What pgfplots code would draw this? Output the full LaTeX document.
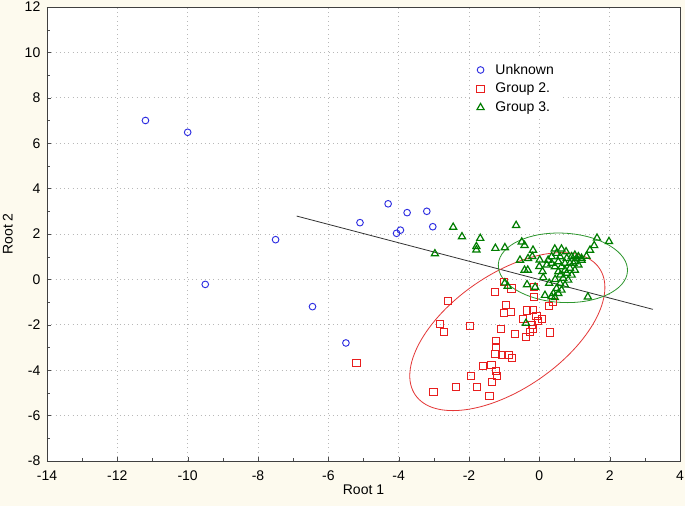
\documentclass[border=0pt]{standalone}
\usepackage{pgfplots}
\pgfplotsset{compat=1.18}
\usepackage{fontspec}
\setmainfont{Liberation Sans}

\definecolor{cblue}{RGB}{45,45,225}
\definecolor{cred}{RGB}{232,30,30}
\definecolor{cgreen}{RGB}{0,125,0}
\definecolor{egreen}{RGB}{45,150,45}
\definecolor{ered}{RGB}{228,55,55}
\definecolor{cream}{RGB}{253,250,238}

\begin{document}
\begin{tikzpicture}
% page background, same size as the reference picture
\path[use as bounding box, fill=cream] (-35.25pt,-33.75pt) rectangle (478.5pt,345.75pt);
\begin{axis}[
  scale only axis,
  width=474.75pt, height=340.5pt,
  xmin=-14, xmax=4, ymin=-8, ymax=12,
  xtick={-14,-12,...,4}, ytick={-8,-6,...,12},
  minor tick num=1,
  tick align=inside,
  xtick pos=bottom, ytick pos=left,
  major tick length=3pt, minor tick length=2pt,
  tick style={black!70},
  axis line style={black!75},
  axis background/.style={fill=white},
  grid=major,
  major grid style={black!28, line width=0.6pt, dash pattern=on 0.6pt off 2.6pt},
  /pgf/number format/assume math mode=true,
  ticklabel style={font=\fontsize{10.5}{12.6}\selectfont},
  xticklabel style={yshift=-3.5pt},
  yticklabel style={xshift=-1.5pt},
  label style={font=\fontsize{10.5}{12.6}\selectfont},
  xlabel={Root 1}, ylabel={Root 2},
  xlabel style={at={(axis description cs:0.5,-0.064)}, anchor=center},
  ylabel style={at={(axis description cs:-0.062,0.5)}, anchor=center},
  legend style={at={(rel axis cs:0.6725,0.887)}, anchor=north west,
    draw=none, fill=white, font=\fontsize{10.5}{12.6}\selectfont,
    row sep=1.2pt,
    /tikz/every odd column/.append style={column sep=6.5pt}},
  legend cell align=left,
]
\addplot[only marks, mark=o, mark size=2.5pt, cblue, line width=0.7pt] coordinates {
(-11.2,7.0) (-10.0,6.48) (-9.5,-0.22) (-7.5,1.75) (-6.45,-1.2) (-5.5,-2.8)
(-5.1,2.5) (-4.3,3.33) (-4.06,2.03) (-3.95,2.17) (-3.76,2.94) (-3.2,3.0) (-3.03,2.32)
};
\addlegendentry{Unknown}

\addplot[only marks, mark=square, mark size=2.7pt, cred, line width=0.7pt] coordinates {
(-5.2,-3.67) (-2.6,-0.94) (-2.82,-1.97) (-2.72,-2.3) (-1.97,-2.05)
(-3.01,-4.96) (-2.37,-4.73) (-1.78,-4.75) (-1.95,-4.25) (-1.42,-5.14)
(-1.34,-4.52) (-1.2,-4.25) (-1.23,-4.02) (-1.6,-3.81) (-1.36,-3.78)
(-1.24,-2.7) (-1.24,-2.98) (-1.25,-3.28) (-1.07,-3.34) (-0.88,-3.33) (-0.78,-3.45)
(-1.1,-2.17) (-0.69,-2.42) (-1.27,-0.56) (-1.01,-0.13) (-0.79,-0.4)
(-0.94,-1.11) (-1.0,-1.47) (-0.8,-1.44) (-0.15,-0.34) (-0.15,-0.79)
(-0.36,-1.37) (-0.17,-1.35) (-0.08,-1.61) (0.07,-1.76) (-0.03,-1.84)
(-0.46,-1.74) (-0.22,-2.01) (-0.19,-2.2) (-0.27,-2.33) (-0.37,-2.53)
(0.3,-2.34) (0.28,-1.16) (0.38,-0.99)
};
\addlegendentry{Group 2.}

\addplot[only marks, mark=triangle, mark size=3.1pt, cgreen, line width=0.9pt] coordinates {
(-2.45,2.3) (-2.2,1.88) (-1.68,1.81) (-1.79,1.45) (-1.79,1.3) (-2.97,1.13)
(-0.66,2.38) (-1.25,1.37) (-0.98,1.4) (-0.5,1.65) (-0.42,1.5) (-0.18,1.29)
(-0.55,0.85) (-0.32,0.92) (-0.2,1.01) (-0.42,0.41) (-0.33,0.41)
(0.01,0.86) (0.0,0.57) (0.09,0.35) (0.11,0.08) (0.28,-0.17) (0.16,-0.7) (0.35,-0.76)
(-0.98,-0.15) (-0.9,-0.3) (-0.35,-0.23) (-0.12,-0.34) (1.38,-0.77)
(1.64,1.82) (1.98,1.67) (1.56,1.49) (1.44,1.29) (1.34,1.02) (-0.38,-1.93)
(0.44,1.34) (0.63,1.34) (0.76,1.22) (0.49,1.15) (0.35,1.0) (0.25,0.85)
(0.59,1.0) (0.78,0.93) (0.92,1.0) (1.01,1.07) (1.11,1.0) (1.2,0.93)
(1.01,0.78) (0.87,0.71) (0.73,0.71) (0.54,0.78) (0.35,0.71) (0.44,0.56) (0.21,0.64)
(1.2,0.85) (1.11,0.64) (1.01,0.41) (0.92,0.19) (0.82,-0.03) (0.73,-0.25)
(0.63,-0.47) (0.54,-0.62) (0.44,-0.8)
(1.06,0.93) (0.97,0.71) (0.87,0.49) (0.78,0.27) (0.68,0.05) (0.59,-0.18)
(0.49,-0.4) (0.4,-0.62)
(0.63,0.56) (0.73,0.41) (0.54,0.34) (0.6,0.2) (0.45,0.0)
};
\addlegendentry{Group 3.}

\addplot[black!80, line width=0.6pt, forget plot] coordinates {(-6.9,2.79) (3.23,-1.32)};

% confidence ellipses
\draw[ered, line width=0.6pt] (axis cs:-0.91,-2.30) ellipse [x radius=83.8pt, y radius=42.9pt, rotate=34.6];
\draw[egreen, line width=0.6pt] (axis cs:0.67,0.51) ellipse [x radius=48.5pt, y radius=26pt, rotate=-3];
\end{axis}
\end{tikzpicture}
\end{document}
